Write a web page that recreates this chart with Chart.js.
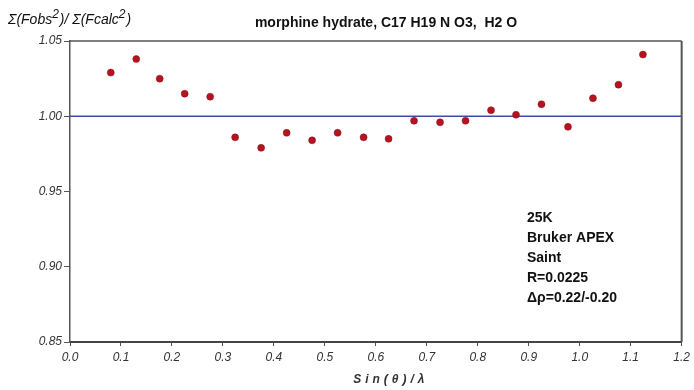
<!DOCTYPE html>
<html>
<head>
<meta charset="utf-8">
<script src="https://cdn.jsdelivr.net/npm/chart.js@4/dist/chart.umd.min.js"></script>
<style>
  html,body{margin:0;padding:0;background:#fff;}
  #wrap{width:694px;height:390px;position:relative;}
</style>
</head>
<body>
<div id="wrap"><canvas id="c" width="694" height="390"></canvas></div>
<script>
// ---- data ----
const sinThetaOverLambda = [0.080, 0.130, 0.176, 0.225, 0.275, 0.324, 0.375, 0.425, 0.475, 0.525, 0.576,
                            0.625, 0.675, 0.726, 0.776, 0.826, 0.875, 0.925, 0.977, 1.026, 1.076, 1.124];
const fobsOverFcalc = [1.029, 1.038, 1.025, 1.015, 1.013, 0.986, 0.979, 0.989, 0.984, 0.989, 0.986,
                       0.985, 0.997, 0.996, 0.997, 1.004, 1.001, 1.008, 0.993, 1.012, 1.021, 1.041];
const referenceLevel = 1.00;
const xRange = [0.0, 1.2];
const yRange = [0.85, 1.05];
const chartTitle = 'morphine hydrate, C17 H19 N O3,  H2 O';
const yAxisTitle = ['Σ(Fobs', '2', ')/ Σ(Fcalc', '2', ')'];
const xAxisTitle = 'Sin(θ)/λ';
const infoLines = ['25K', 'Bruker APEX', 'Saint', 'R=0.0225', 'Δρ=0.22/-0.20'];

const points = sinThetaOverLambda.map((x, i) => ({x: x, y: fobsOverFcalc[i]}));
const refLine = [{x: xRange[0], y: referenceLevel}, {x: xRange[1], y: referenceLevel}];

const FONT = '"Liberation Sans", Arial, sans-serif';

const decor = {
  id: 'decor',
  afterDraw(chart) {
    const ctx = chart.ctx;
    const a = chart.chartArea;
    ctx.save();
    // frame top & right
    ctx.strokeStyle = '#555';
    ctx.lineWidth = 1.5;
    ctx.beginPath();
    ctx.moveTo(a.left, a.top);
    ctx.lineTo(a.right, a.top);
    ctx.stroke();
    ctx.lineWidth = 2;
    ctx.beginPath();
    ctx.moveTo(a.right, a.top);
    ctx.lineTo(a.right, a.bottom);
    ctx.stroke();
    // title
    ctx.fillStyle = '#111';
    ctx.font = 'bold 14px ' + FONT;
    ctx.textAlign = 'center';
    ctx.textBaseline = 'middle';
    ctx.fillText(chartTitle, 386, 23);
    // y axis title with superscripts
    ctx.textAlign = 'left';
    ctx.textBaseline = 'alphabetic';
    let x = 8;
    const base = 24;
    yAxisTitle.forEach((t, i) => {
      const sup = (i % 2 === 1);
      ctx.font = 'italic ' + (sup ? '12px ' : '14px ') + FONT;
      ctx.fillText(t, x, sup ? base - 6 : base);
      x += ctx.measureText(t).width + (sup ? 1 : 0);
    });
    // x axis title
    ctx.font = 'italic bold 12px ' + FONT;
    ctx.fillStyle = '#333';
    ctx.textAlign = 'center';
    ctx.textBaseline = 'middle';
    if ('letterSpacing' in ctx) ctx.letterSpacing = '4px';
    ctx.fillText(xAxisTitle, (a.left + a.right) / 2 + 15, 380);
    if ('letterSpacing' in ctx) ctx.letterSpacing = '0px';
    // info text
    ctx.font = 'bold 14px ' + FONT;
    ctx.fillStyle = '#111';
    ctx.textAlign = 'left';
    infoLines.forEach((t, i) => ctx.fillText(t, 527, 218 + i * 20));
    ctx.restore();
  }
};

new Chart(document.getElementById('c'), {
  type: 'scatter',
  data: {
    datasets: [
      {
        type: 'line',
        data: refLine,
        borderColor: '#3c4ea0',
        borderWidth: 1.5,
        pointRadius: 0,
        fill: false,
        order: 2
      },
      {
        data: points,
        backgroundColor: '#b3141f',
        borderColor: '#8e0f18',
        borderWidth: 0.5,
        pointRadius: 3.5,
        order: 1
      }
    ]
  },
  options: {
    responsive: false,
    animation: false,
    layout: {padding: {top: 41, right: 11, left: 0, bottom: 0}},
    plugins: {legend: {display: false}, tooltip: {enabled: false}, title: {display: false}},
    scales: {
      x: {
        type: 'linear',
        min: xRange[0], max: xRange[1],
        afterFit(s) { s.height = 48; },
        grid: {drawOnChartArea: false, drawTicks: true, tickLength: 4, color: '#555'},
        border: {display: true, color: '#444', width: 2},
        ticks: {
          stepSize: 0.1,
          padding: 4,
          color: '#333',
          font: {family: FONT, size: 12, style: 'italic'},
          callback: v => Number(v).toFixed(1)
        }
      },
      y: {
        type: 'linear',
        min: yRange[0], max: yRange[1],
        afterFit(s) { s.width = 70; },
        grid: {drawOnChartArea: false, drawTicks: true, tickLength: 6, color: '#555'},
        border: {display: true, color: '#555', width: 1.5},
        ticks: {
          stepSize: 0.05,
          padding: 2,
          color: '#333',
          font: {family: FONT, size: 12, style: 'italic'},
          callback: v => Number(v).toFixed(2)
        }
      }
    }
  },
  plugins: [decor]
});
</script>
</body>
</html>
